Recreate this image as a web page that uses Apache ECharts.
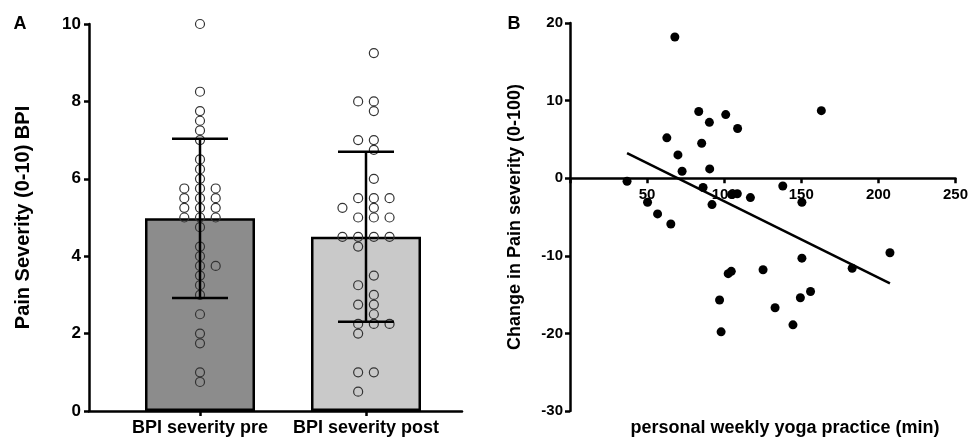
<!DOCTYPE html>
<html>
<head>
<meta charset="utf-8">
<script src="https://cdn.jsdelivr.net/npm/echarts@6/dist/echarts.min.js"></script>
<style>html,body{margin:0;padding:0;background:#fff}#c{width:971px;height:441px}</style>
</head>
<body>
<div id="c"></div>
<script>
// ---- Panel A data ----
const categories = ['BPI severity pre', 'BPI severity post'];
const preValues = [10, 8.25, 7.75, 7.5, 7.25, 7, 6.5, 6.25, 6,
  5.75, 5.75, 5.75, 5.5, 5.5, 5.5, 5.25, 5.25, 5.25, 5, 5, 5,
  4.75, 4.25, 4, 3.75, 3.75, 3.5, 3.25, 3, 2.5, 2, 1.75, 1, 0.75];
const preSwarm = [0, 0, 0, 0, 0, 0, 0, 0, 0,
  -1, 0, 1, -1, 0, 1, -1, 0, 1, -1, 0, 1,
  0, 0, 0, 0, 1, 0, 0, 0, 0, 0, 0, 0, 0];
const postValues = [9.25, 8, 8, 7.75, 7, 7, 6.75, 6,
  5.5, 5.5, 5.5, 5.25, 5.25, 5, 5, 5, 4.5, 4.5, 4.5, 4.5, 4.25,
  3.5, 3.25, 3, 2.75, 2.75, 2.5, 2.25, 2.25, 2.25, 2, 1, 1, 0.5];
const postSwarm = [0.5, -0.5, 0.5, 0.5, -0.5, 0.5, 0.5, 0.5,
  -0.5, 0.5, 1.5, -1.5, 0.5, -0.5, 0.5, 1.5, -1.5, -0.5, 0.5, 1.5, -0.5,
  0.5, -0.5, 0.5, -0.5, 0.5, 0.5, -0.5, 0.5, 1.5, -0.5, -0.5, 0.5, -0.5];
const yTicksA = [0, 2, 4, 6, 8, 10];

// ---- Panel B data ----
const yogaMinutes = [68, 83.5, 101, 90.4, 108.7, 62.8, 85.4, 70, 72.7, 90.6, 37, 86.3,
  104.8, 108.5, 117, 50.3, 92.1, 56.8, 65.4, 102.6, 104.6, 97, 98, 163, 138, 150.4,
  207.5, 150.4, 125.2, 183, 156, 149.4, 133, 144.6];
const painChange = [18.2, 8.6, 8.2, 7.2, 6.4, 5.2, 4.5, 3.0, 0.9, 1.2, -0.4, -1.2,
  -2.1, -2.0, -2.5, -3.1, -3.4, -4.6, -5.9, -12.3, -12.0, -15.7, -19.8, 8.7, -1.0, -3.1,
  -9.6, -10.3, -11.8, -11.6, -14.6, -15.4, -16.7, -18.9];
const xTicksB = [0, 50, 100, 150, 200, 250];
const yTicksB = [-30, -20, -10, 0, 10, 20];

// ---- derived stats ----
function mean(a) { return a.reduce((s, v) => s + v, 0) / a.length; }
function sd(a) { const m = mean(a); return Math.sqrt(a.reduce((s, v) => s + (v - m) * (v - m), 0) / (a.length - 1)); }
const groups = [preValues, postValues];
const barData = groups.map((g, i) => [i, mean(g)]);
const errData = groups.map((g, i) => [i, mean(g) - sd(g), mean(g) + sd(g)]);

const pxPerUnitA = 166;        // px between the two bar centres
const swarmStep = 15.7 / pxPerUnitA;
const dotData = [];
preValues.forEach((v, i) => dotData.push([0 + preSwarm[i] * swarmStep, v]));
postValues.forEach((v, i) => dotData.push([1 + postSwarm[i] * swarmStep, v]));

const mx = mean(yogaMinutes), my = mean(painChange);
let sxy = 0, sxx = 0;
yogaMinutes.forEach((x, i) => { sxy += (x - mx) * (painChange[i] - my); sxx += (x - mx) * (x - mx); });
const slope = sxy / sxx, icpt = my - slope * mx;
const xmin = Math.min(...yogaMinutes), xmax = Math.max(...yogaMinutes);
const fitData = [[xmin, icpt + slope * xmin], [xmax, icpt + slope * xmax]];
const scatterB = yogaMinutes.map((x, i) => [x, painChange[i]]);

const FONT = 'Liberation Sans';
const axisLineStyle = { color: '#000', width: 2.5 };

// panel B grid geometry (x axis is drawn on the y = 0 line)
const gridBTop = 23, gridBBottom = 30, chartH = 441;
const yMinB = -30, yMaxB = 20;
const plotHB = chartH - gridBTop - gridBBottom;
const zeroOffsetB = -plotHB * (0 - yMinB) / (yMaxB - yMinB);

const chart = echarts.init(document.getElementById('c'), null, { renderer: 'canvas' });
chart.setOption({
  animation: false,
  backgroundColor: '#fff',
  textStyle: { fontFamily: FONT },
  grid: [
    { left: 89, right: 509, top: 24, bottom: 30 },
    { left: 570, right: 12, top: gridBTop, bottom: gridBBottom }
  ],
  xAxis: [
    {
      gridIndex: 0, type: 'value', min: -111 / pxPerUnitA, max: 262 / pxPerUnitA,
      splitLine: { show: false },
      axisLine: { onZero: false, lineStyle: axisLineStyle },
      axisTick: { customValues: [0, 1], length: 5, lineStyle: { color: '#000', width: 2.5 } },
      axisLabel: {
        customValues: [0, 1], margin: 8,
        formatter: v => categories[Math.round(v)] || '',
        color: '#000', fontWeight: 'bold', fontSize: 18, fontFamily: FONT
      }
    },
    {
      gridIndex: 1, type: 'value', min: 0, max: 250, interval: 50,
      offset: zeroOffsetB,
      splitLine: { show: false },
      axisLine: { onZero: false, lineStyle: axisLineStyle },
      axisTick: { length: 5, lineStyle: { color: '#000', width: 2.5 } },
      axisLabel: {
        margin: 9, color: '#000', fontWeight: 'bold', fontSize: 15, fontFamily: FONT,
        formatter: v => (v === 0 ? '' : String(v))
      }
    }
  ],
  yAxis: [
    {
      gridIndex: 0, type: 'value', min: 0, max: 10, interval: 2,
      splitLine: { show: false },
      axisLine: { show: true, onZero: false, lineStyle: axisLineStyle },
      axisTick: { show: true, length: 5, lineStyle: { color: '#000', width: 2.5 } },
      axisLabel: { margin: 8, color: '#000', fontWeight: 'bold', fontSize: 17, fontFamily: FONT },
      name: 'Pain Severity (0-10) BPI', nameLocation: 'middle', nameRotate: 90, nameGap: 56,
      nameTextStyle: { color: '#000', fontWeight: 'bold', fontSize: 20, fontFamily: FONT }
    },
    {
      gridIndex: 1, type: 'value', min: yMinB, max: yMaxB, interval: 10,
      splitLine: { show: false },
      axisLine: { show: true, onZero: false, lineStyle: axisLineStyle },
      axisTick: { show: true, length: 5, lineStyle: { color: '#000', width: 2.5 } },
      axisLabel: { margin: 7, color: '#000', fontWeight: 'bold', fontSize: 15, fontFamily: FONT },
      name: 'Change in Pain severity (0-100)', nameLocation: 'middle', nameRotate: 90, nameGap: 46,
      nameTextStyle: { color: '#000', fontWeight: 'bold', fontSize: 18, fontFamily: FONT }
    }
  ],
  graphic: [
    { type: 'text', x: 20, y: 24, style: { text: 'A', font: 'bold 18px "Liberation Sans"', fill: '#000', align: 'center', verticalAlign: 'middle' } },
    { type: 'text', x: 514, y: 24, style: { text: 'B', font: 'bold 18px "Liberation Sans"', fill: '#000', align: 'center', verticalAlign: 'middle' } },
    { type: 'text', x: 785, y: 428, style: { text: 'personal weekly yoga practice (min)', font: 'bold 18px "Liberation Sans"', fill: '#000', align: 'center', verticalAlign: 'middle' } }
  ],
  series: [
    {
      type: 'bar', xAxisIndex: 0, yAxisIndex: 0, barWidth: 110, z: 2,
      data: barData.map((d, i) => ({ value: d, itemStyle: { color: i === 0 ? '#8c8c8c' : '#c9c9c9' } })),
      itemStyle: { borderColor: '#000', borderWidth: 2.5 }
    },
    {
      type: 'scatter', xAxisIndex: 0, yAxisIndex: 0, z: 3, symbol: 'circle', symbolSize: 9,
      data: dotData,
      itemStyle: { color: 'rgba(0,0,0,0)', borderColor: '#333', borderWidth: 1.2, opacity: 1 }
    },
    {
      type: 'custom', xAxisIndex: 0, yAxisIndex: 0, z: 4,
      data: errData,
      renderItem: function (params, api) {
        const x = api.value(0);
        const lo = api.coord([x, api.value(1)]);
        const hi = api.coord([x, api.value(2)]);
        const hw = 28;
        const st = { stroke: '#000', lineWidth: 2.5 };
        return {
          type: 'group', children: [
            { type: 'line', shape: { x1: lo[0], y1: lo[1], x2: hi[0], y2: hi[1] }, style: st },
            { type: 'line', shape: { x1: lo[0] - hw, y1: lo[1], x2: lo[0] + hw, y2: lo[1] }, style: st },
            { type: 'line', shape: { x1: hi[0] - hw, y1: hi[1], x2: hi[0] + hw, y2: hi[1] }, style: st }
          ]
        };
      }
    },
    {
      type: 'scatter', xAxisIndex: 1, yAxisIndex: 1, symbol: 'circle', symbolSize: 9,
      data: scatterB, itemStyle: { color: '#000', opacity: 1 }
    },
    {
      type: 'line', xAxisIndex: 1, yAxisIndex: 1, data: fitData, symbol: 'none',
      lineStyle: { color: '#000', width: 2.5 }, z: 1
    }
  ]
});
</script>
</body>
</html>
